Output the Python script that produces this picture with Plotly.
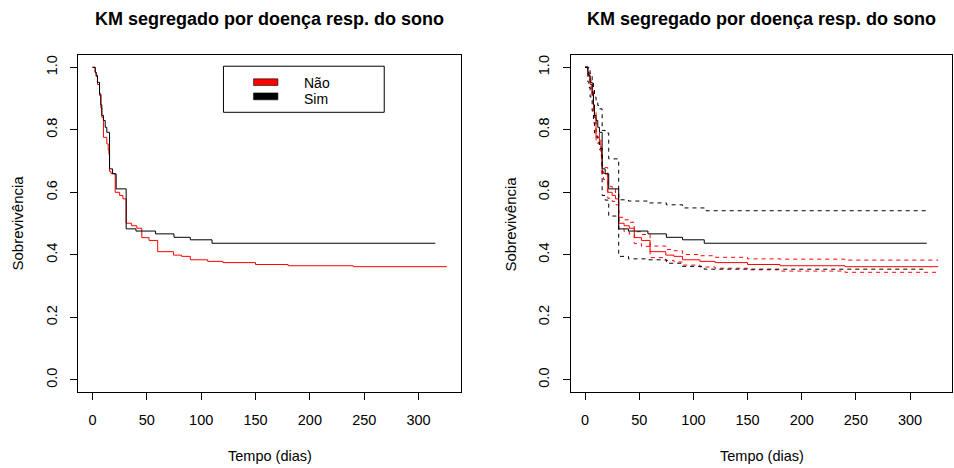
import plotly.graph_objects as go

# ---------------- data ----------------
# Group "Não" (red)
days_nao = [0, 2.5, 3.4, 4.6, 6.5, 7.7, 8.6, 10.1, 13.2, 14.5, 15.2, 15.7, 17.0, 20.9, 25.0, 28.0,
            31.0, 36.0, 40.8, 45.4, 52.0, 60.0, 74.5, 82.0, 90.0, 106.0, 120.0, 150.0, 180.0, 240.0, 326.0]
surv_nao = [1.000, 0.984, 0.970, 0.945, 0.910, 0.870, 0.840, 0.776, 0.755, 0.735, 0.720, 0.667, 0.660, 0.600, 0.590, 0.579,
            0.501, 0.493, 0.485, 0.455, 0.446, 0.410, 0.399, 0.395, 0.384, 0.379, 0.375, 0.369, 0.365, 0.362, 0.362]
upper_nao = [1.000, 0.991, 0.979, 0.957, 0.924, 0.886, 0.857, 0.795, 0.774, 0.754, 0.739, 0.686, 0.679, 0.619, 0.609, 0.598,
             0.520, 0.512, 0.504, 0.474, 0.465, 0.428, 0.417, 0.413, 0.401, 0.397, 0.392, 0.387, 0.386, 0.383, 0.383]
lower_nao = [1.000, 0.977, 0.961, 0.933, 0.896, 0.854, 0.823, 0.757, 0.736, 0.716, 0.701, 0.648, 0.641, 0.581, 0.571, 0.560,
             0.482, 0.474, 0.466, 0.436, 0.427, 0.391, 0.382, 0.377, 0.367, 0.361, 0.357, 0.352, 0.348, 0.344, 0.344]

# Group "Sim" (black)
days_sim = [0, 2.5, 3.4, 4.6, 6.5, 7.7, 8.6, 10.1, 11.7, 13.2, 15.7, 18.5, 21.8, 31.0, 40.0, 58.0, 75.0, 90.0, 110.0, 315.4]
surv_sim = [1.000, 0.984, 0.974, 0.952, 0.915, 0.880, 0.846, 0.830, 0.808, 0.792, 0.675, 0.659, 0.611,
            0.483, 0.476, 0.467, 0.456, 0.448, 0.437, 0.437]
upper_sim = [1.000, 1.000, 0.995, 0.980, 0.955, 0.935, 0.905, 0.890, 0.878, 0.867, 0.798, 0.790, 0.707,
             0.576, 0.572, 0.566, 0.560, 0.550, 0.541, 0.541]
lower_sim = [1.000, 0.953, 0.935, 0.905, 0.860, 0.822, 0.790, 0.780, 0.760, 0.740, 0.590, 0.575, 0.524,
             0.395, 0.387, 0.384, 0.373, 0.363, 0.354, 0.354]

legend_labels = ["Não", "Sim"]
legend_colors = ["#FF0000", "#000000"]

x_ticks = [0, 50, 100, 150, 200, 250, 300]
y_ticks = [0.0, 0.2, 0.4, 0.6, 0.8, 1.0]
y_ticktext = ["0.0", "0.2", "0.4", "0.6", "0.8", "1.0"]

title_text = "KM segregado por doença resp. do sono"
x_title = "Tempo (dias)"
y_title = "Sobrevivência"

# ---------------- figure ----------------
W, H = 954, 468
FONT = "Liberation Sans, Arial, sans-serif"

fig = go.Figure()

def add_step(x, y, color, xa, ya, dash="solid"):
    fig.add_trace(go.Scatter(x=x, y=y, mode="lines", line=dict(color=color, width=1, dash=dash, shape="hv"),
                             xaxis=xa, yaxis=ya, showlegend=False, hoverinfo="skip"))

# Left panel
add_step(days_nao, surv_nao, legend_colors[0], "x", "y")
add_step(days_sim, surv_sim, legend_colors[1], "x", "y")

# Right panel with confidence intervals
dash = "4px,4px"
add_step(days_nao, surv_nao, legend_colors[0], "x2", "y2")
add_step(days_nao, upper_nao, legend_colors[0], "x2", "y2", dash)
add_step(days_nao, lower_nao, legend_colors[0], "x2", "y2", dash)
add_step(days_sim, surv_sim, legend_colors[1], "x2", "y2")
add_step(days_sim, upper_sim, legend_colors[1], "x2", "y2", dash)
add_step(days_sim, lower_sim, legend_colors[1], "x2", "y2", dash)

left_dom = [78.3 / W, 461.0 / W]
right_dom = [571.0 / W, 952.3 / W]
y_dom = [(H - 392.3) / H, (H - 54.8) / H]

xr = [-13.04, 339.04]
yr = [-0.04, 1.04]

axis_common = dict(showgrid=False, zeroline=False, showline=True, linecolor="#000", linewidth=1,
                   mirror=True, ticks="outside", ticklen=7, tickcolor="#000", tickwidth=1,
                   tickfont=dict(family=FONT, size=14.5, color="#000"))

fig.update_layout(
    width=W, height=H,
    margin=dict(l=0, r=0, t=0, b=0),
    paper_bgcolor="white", plot_bgcolor="white",
    xaxis=dict(domain=left_dom, range=xr, tickvals=x_ticks, anchor="y", ticklabelstandoff=7, **axis_common),
    yaxis=dict(domain=y_dom, range=yr, tickvals=y_ticks, ticktext=y_ticktext, tickangle=-90,
               anchor="x", ticklabelstandoff=8, **axis_common),
    xaxis2=dict(domain=right_dom, range=xr, tickvals=x_ticks, anchor="y2", ticklabelstandoff=7, **axis_common),
    yaxis2=dict(domain=y_dom, range=yr, tickvals=y_ticks, ticktext=y_ticktext, tickangle=-90,
                anchor="x2", ticklabelstandoff=8, **axis_common),
    showlegend=False,
)

# Titles and axis labels
annots = []
for dom in (left_dom, right_dom):
    cx = (dom[0] + dom[1]) / 2
    annots.append(dict(text="<b>" + title_text + "</b>", x=cx, y=(H - 19) / H, xref="paper", yref="paper",
                       xanchor="center", yanchor="middle", showarrow=False,
                       font=dict(family=FONT, size=18, color="#000")))
    annots.append(dict(text=x_title, x=cx, y=(H - 456) / H, xref="paper", yref="paper",
                       xanchor="center", yanchor="middle", showarrow=False,
                       font=dict(family=FONT, size=14.5, color="#000")))
for xpx in (18, 511):
    annots.append(dict(text=y_title, x=xpx / W, y=(y_dom[0] + y_dom[1]) / 2, xref="paper", yref="paper",
                       xanchor="center", yanchor="middle", showarrow=False, textangle=-90,
                       font=dict(family=FONT, size=15, color="#000")))

# Legend in left panel (data coordinates)
shapes = [dict(type="rect", xref="x", yref="y", x0=120.5, x1=268.4, y0=0.856, y1=1.0035,
               line=dict(color="#000", width=1), fillcolor="white", layer="above")]
sw_y = [(0.942, 0.963), (0.896, 0.918)]
txt_y = [0.9504, 0.8979]
for lab, col, (y0, y1), ty in zip(legend_labels, legend_colors, sw_y, txt_y):
    shapes.append(dict(type="rect", xref="x", yref="y", x0=148.2, x1=170.6, y0=y0, y1=y1,
                       line=dict(color="#000", width=0.6), fillcolor=col, layer="above"))
    annots.append(dict(text=lab, x=193.6, y=ty, xref="x", yref="y", xanchor="left", yanchor="middle",
                       showarrow=False, borderpad=0,
                       font=dict(family=FONT, size=14, color="#000")))

fig.update_layout(annotations=annots, shapes=shapes)

fig.write_html("out.html")
